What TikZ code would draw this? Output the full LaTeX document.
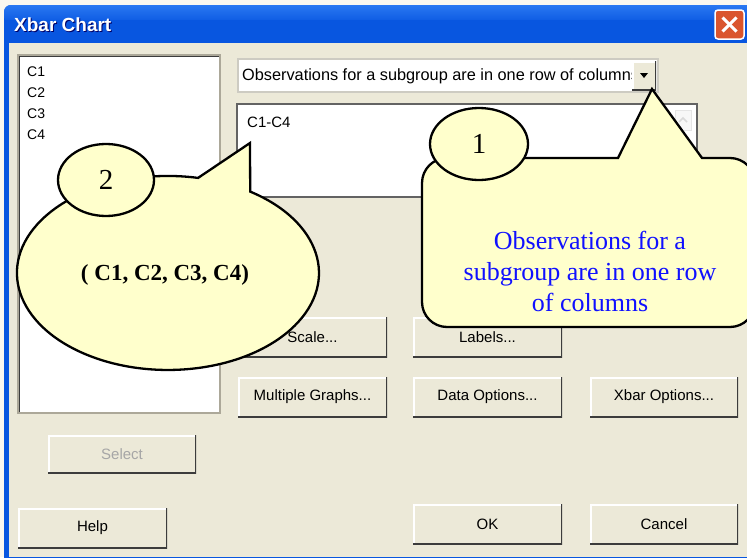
\documentclass[tikz,border=0pt]{standalone}
\usepackage{fontspec}
\setmainfont{Liberation Serif}
\newfontfamily\uif{Liberation Sans}
\usetikzlibrary{shapes.geometric}
\definecolor{dlg}{HTML}{ECE9D8}
\definecolor{cream}{HTML}{FBF8F0}
\definecolor{xpblue}{HTML}{0856E0}
\definecolor{xpblue2}{HTML}{2A78F2}
\definecolor{callfill}{HTML}{FFFFCC}
\definecolor{closered}{HTML}{DA552E}
\definecolor{btndark}{HTML}{3C3C3C}
\definecolor{btnmid}{HTML}{ACA899}
\definecolor{calltext}{HTML}{1010FF}
\tikzset{
  btn/.style={minimum width=149pt, minimum height=40pt, inner sep=0pt, fill=dlg,
    font=\uif\fontsize{15}{16}\selectfont,
    path picture={
      \draw[white, line width=3pt] (path picture bounding box.south west) |- (path picture bounding box.north east);
      \draw[btndark, line width=3pt] (path picture bounding box.south west) -| (path picture bounding box.north east);
    }},
  uitext/.style={font=\uif\fontsize{15}{16}\selectfont, inner sep=0pt, anchor=west},
  listtext/.style={font=\uif\fontsize{14}{15}\selectfont, inner sep=0pt, anchor=west},
  callout/.style={fill=callfill, draw=black, line width=2.3pt, line join=miter},
  bubble/.style={ellipse, fill=callfill, draw=black, line width=2.3pt, inner sep=0pt,
    font=\fontsize{29}{30}\selectfont}
}
\begin{document}
\begin{tikzpicture}[x=1pt, y=-1pt]
\useasboundingbox (0,0) rectangle (747,557);
\clip (0,0) rectangle (747,557);
% background
\fill[cream] (0,0) rectangle (747,557);
% window frame
\fill[xpblue, rounded corners=7pt] (4,5) rectangle (770,580);
\shade[top color=xpblue2, bottom color=xpblue, rounded corners=7pt] (4,5) rectangle (770,24);
\fill[xpblue] (4,20) rectangle (770,43);
\fill[dlg] (9,43) rectangle (747,557);
% title
\node[font=\uif\bfseries\fontsize{19}{20}\selectfont, text=black!60!blue, inner sep=0pt, anchor=west] (titleshadow) at (15,26) {Xbar Chart};
\node[font=\uif\bfseries\fontsize{19}{20}\selectfont, text=white, inner sep=0pt, anchor=west] (title) at (14,25) {Xbar Chart};
% close button
\node[minimum width=29pt, minimum height=29pt, fill=closered, draw=white, line width=1.5pt, rounded corners=3pt] (close) at (729.5,24.5) {};
\draw[white, line width=3pt] ([shift={(-7pt,-7pt)}]close.center) -- ([shift={(7pt,7pt)}]close.center);
\draw[white, line width=3pt] ([shift={(-7pt,7pt)}]close.center) -- ([shift={(7pt,-7pt)}]close.center);

% variable list
\node[minimum width=202pt, minimum height=358pt, fill=white, draw=btnmid, line width=1.5pt, inner sep=0pt] (vars) at (119,234) {};
\draw[btndark, line width=1.5pt] ([shift={(2pt,2pt)}]vars.south west) |- ([shift={(-2pt,-2pt)}]vars.north east);
\node[listtext] (c1) at (27,72) {C1};
\node[listtext] (c2) at (27,93) {C2};
\node[listtext] (c3) at (27,114) {C3};
\node[listtext] (c4) at (27,135) {C4};

% dropdown
\node[minimum width=420pt, minimum height=33pt, fill=white, draw=btnmid!60, line width=1.5pt, inner sep=0pt] (combo) at (448,75.5) {};
\node[font=\uif\fontsize{16.3}{17}\selectfont, inner sep=0pt, anchor=west] (combotext) at (242,76) {Observations for a subgroup are in one row of columns};
\node[btn, minimum width=24pt, minimum height=29pt] (arrowbtn) at (644,75.5) {};
\fill[black] (640,73) -- (648,73) -- (644,78) -- cycle;

% series field
\node[minimum width=460pt, minimum height=93pt, fill=white, draw=btndark!80, line width=2pt, inner sep=0pt] (series) at (467,150.5) {};
\node[uitext] (c1c4) at (247,122) {C1-C4};
\node[minimum width=16pt, minimum height=20pt, fill=black!3, draw=black!10, inner sep=0pt] (scroll) at (683,120) {};
\draw[black!15, line width=1.5pt] (679,122) -- (683,118) -- (687,122);

% buttons
\node[btn] (scale) at (312.5,337) {Scale...};
\node[btn] (labels) at (487.5,337) {Labels...};
\node[btn] (multi) at (312.5,397) {Multiple Graphs...};
\node[btn] (dataopt) at (487.5,397) {Data Options...};
\node[btn, minimum width=148pt] (xbaropt) at (664,397) {Xbar Options...};
\node[btn, minimum width=148pt, minimum height=38pt, text=black!35] (select) at (122,454) {Select};
\node[btn] (help) at (92.5,528) {Help};
\node[btn] (ok) at (487.5,524) {OK};
\node[btn, minimum width=148pt] (cancel) at (664,524) {Cancel};

% callout 2
\filldraw[callout] (198.1,177.9) -- (250,143) -- (250.2,191.6)
  arc[start angle=-57, end angle=281.5, x radius=151, y radius=97] -- cycle;
\node[font=\bfseries\fontsize{23}{27}\selectfont, inner sep=0pt] (t2) at (165,275) {( C1, C2, C3, C4)};
\node[bubble, minimum width=96pt, minimum height=72pt] (n2) at (106,180) {2};

% callout 1
\filldraw[callout] (422,302) -- (422,183) arc[start angle=180, end angle=270, radius=25]
  -- (618,158) -- (652,89) -- (702,158) -- (730,158)
  arc[start angle=270, end angle=360, radius=25] -- (755,302)
  arc[start angle=0, end angle=90, radius=25] -- (447,327)
  arc[start angle=90, end angle=180, radius=25] -- cycle;
\node[text=calltext, align=center, font=\fontsize{26}{31}\selectfont, inner sep=0pt] (t1) at (590,271) {Observations for a\\subgroup are in one row\\of columns};
\node[bubble, minimum width=98pt, minimum height=72pt] (n1) at (479,144) {1};
\end{tikzpicture}
\end{document}
